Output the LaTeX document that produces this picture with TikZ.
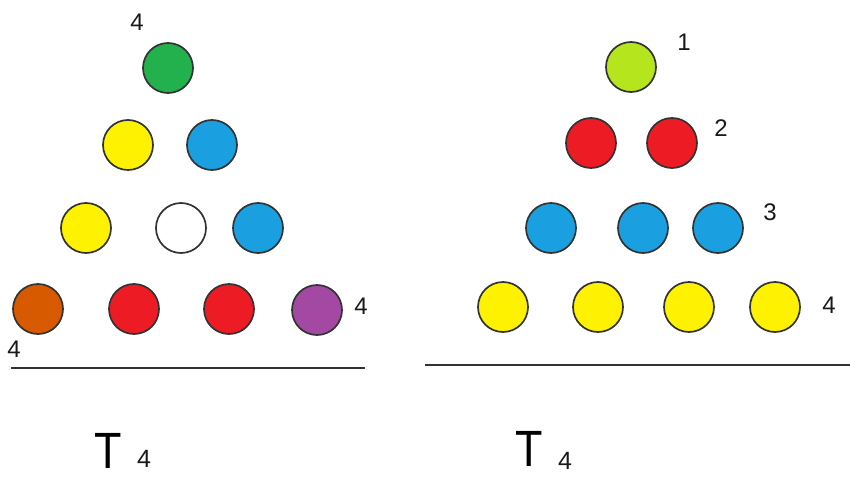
\documentclass[tikz,border=0pt]{standalone}
\usepackage{fontspec}
\setmainfont{Liberation Sans}
\usetikzlibrary{positioning}

\definecolor{pgreen}{HTML}{22B14C}
\definecolor{plime}{HTML}{B5E61D}
\definecolor{pyellow}{HTML}{FFF200}
\definecolor{pblue}{HTML}{1AA0E0}
\definecolor{pred}{HTML}{ED1C24}
\definecolor{porange}{HTML}{D85A00}
\definecolor{ppurple}{HTML}{A349A4}

\begin{document}
\begin{tikzpicture}[x=1pt, y=-1pt,
    ball/.style={draw=black!80, line width=1.7pt, circle, minimum size=50pt, inner sep=0pt},
    num/.style={inner sep=0pt, font=\fontsize{24}{28}\selectfont, text=black!90},
    big/.style={inner sep=0pt, font=\fontsize{51}{56}\selectfont},
    sub/.style={inner sep=0pt, font=\fontsize{25}{28}\selectfont, text=black!90},
    base/.style={line width=1.8pt, black!80}]
  \useasboundingbox (0,0) rectangle (850,476);

  % left triangle
  \node[ball, fill=pgreen]  (a1) at (168,68)  {};
  \node[ball, fill=pyellow] (b1) at (128,145) {};
  \node[ball, fill=pblue]   (b2) at (212,145) {};
  \node[ball, fill=pyellow] (c1) at (86,228)  {};
  \node[ball, fill=white]   (c2) at (181,228) {};
  \node[ball, fill=pblue]   (c3) at (258,228) {};
  \node[ball, fill=porange] (d1) at (38,309)  {};
  \node[ball, fill=pred]    (d2) at (134,309) {};
  \node[ball, fill=pred]    (d3) at (229,309) {};
  \node[ball, fill=ppurple] (d4) at (317,310) {};

  \node[num] (na) at (137,22)  {4};
  \node[num] (nd) at (361,306) {4};
  \node[num] (nb) at (14,349)  {4};

  \coordinate (la) at (11,368);
  \coordinate (lb) at (365,368);
  \draw[base] (la) -- (lb);

  % right triangle
  \node[ball, fill=plime]   (p1) at (631,67)  {};
  \node[ball, fill=pred]    (q1) at (591,143) {};
  \node[ball, fill=pred]    (q2) at (672,143) {};
  \node[ball, fill=pblue]   (r1) at (551,228) {};
  \node[ball, fill=pblue]   (r2) at (643,228) {};
  \node[ball, fill=pblue]   (r3) at (718,228) {};
  \node[ball, fill=pyellow] (s1) at (503,307) {};
  \node[ball, fill=pyellow] (s2) at (598,307) {};
  \node[ball, fill=pyellow] (s3) at (689,307) {};
  \node[ball, fill=pyellow] (s4) at (775,307) {};

  \node[num] (m1) at (684,42)  {1};
  \node[num] (m2) at (721,128) {2};
  \node[num] (m3) at (770,212) {3};
  \node[num] (m4) at (829,305) {4};

  \coordinate (ra) at (425,365);
  \coordinate (rb) at (850,365);
  \draw[base] (ra) -- (rb);

  % titles
  \node[big] (tl) at (108,451) {\scalebox{0.88}[1]{T}};
  \node[sub] (tl4) at (144,459) {4};
  \node[big] (tr) at (529,449) {\scalebox{0.88}[1]{T}};
  \node[sub] (tr4) at (565,461) {4};
\end{tikzpicture}
\end{document}
